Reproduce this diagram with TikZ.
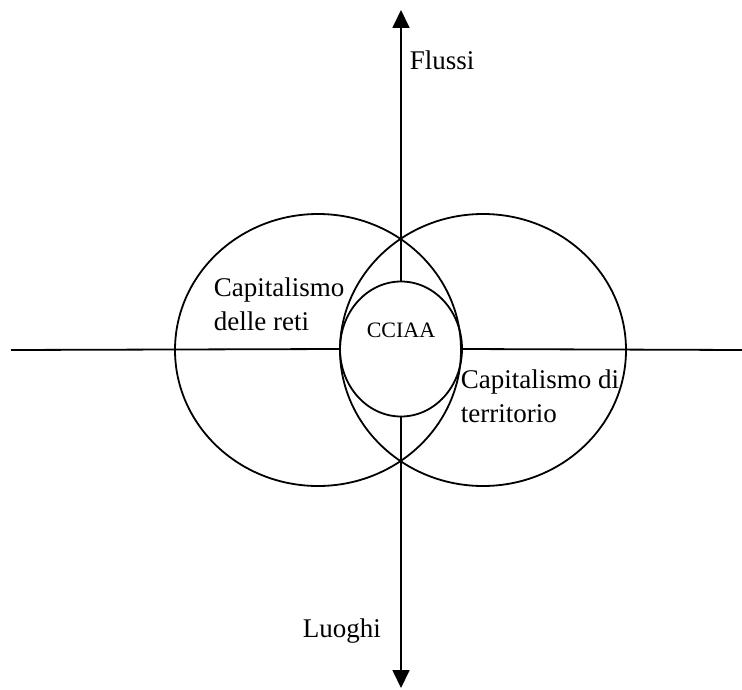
\documentclass[tikz,border=0pt]{standalone}
\usepackage{fontspec}
\setmainfont{Liberation Serif}
\usetikzlibrary{arrows.meta,positioning,shapes.geometric}

\begin{document}
\begin{tikzpicture}[x=0.5pt, y=-0.5pt, line width=0.9pt,
    ring/.style={draw, ellipse, inner sep=0pt, minimum width=143pt, minimum height=136pt},
    lbl/.style={font=\fontsize{13.5}{17}\selectfont, inner sep=0pt, anchor=base west, align=left},
    axis tip/.style={-{Triangle[width=8.5pt,length=9pt]}}]
    \useasboundingbox (0,0) rectangle (742,689);

    % Capitalismo delle reti / di territorio
    \node[ring] (reti) at (318,350) {};
    \node[ring] (terr) at (483,350) {};

    % CCIAA in the middle
    \node[draw, ellipse, inner sep=0pt, minimum width=61pt, minimum height=67.5pt] (cciaa) at (401,349) {};
    \node[font=\fontsize{11}{13}\selectfont, inner sep=0pt, anchor=base] (cciaatxt) at (401,337) {CCIAA};

    % Axes
    \coordinate (flussiend) at (401,10);
    \coordinate (luoghiend) at (401,688);
    \coordinate (westend) at (11,350);
    \coordinate (eastend) at (742,350);
    \draw[axis tip] (cciaa.north) -- (flussiend);
    \draw[axis tip] (cciaa.south) -- (luoghiend);
    \draw (westend) -- (cciaa.west);
    \draw (cciaa.east) -- (eastend);

    % Labels (base = last line)
    \node[lbl] (flussi) at (409,70) {Flussi};
    \node[lbl] (luoghi) at (302,637) {Luoghi};
    \node[lbl] (retilbl) at (213,330) {Capitalismo\\delle reti};
    \node[lbl] (terrlbl) at (460,422) {Capitalismo di\\territorio};
\end{tikzpicture}
\end{document}
